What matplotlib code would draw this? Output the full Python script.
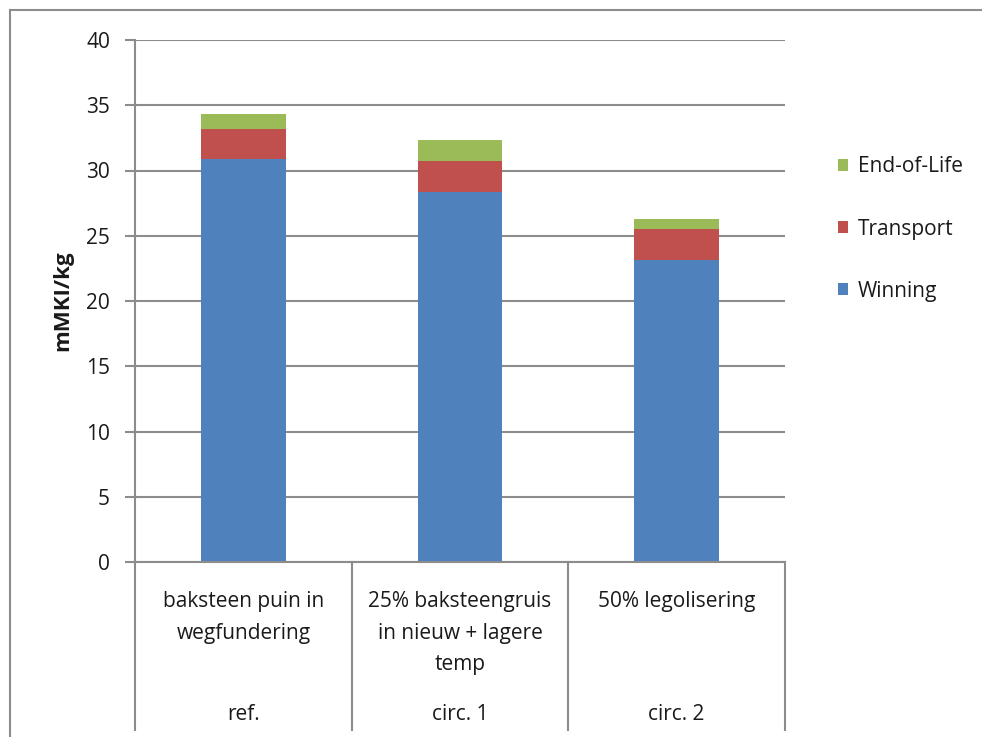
import matplotlib
matplotlib.use("Agg")
import matplotlib.pyplot as plt
from matplotlib.lines import Line2D
from matplotlib.patches import Patch

# Data
scenarios = ["baksteen puin in\nwegfundering",
             "25% baksteengruis\nin nieuw + lagere\ntemp",
             "50% legolisering"]
groups = ["ref.", "circ. 1", "circ. 2"]
winning = [30.9, 28.35, 23.15]
transport = [2.3, 2.35, 2.35]
end_of_life = [1.15, 1.6, 0.75]
series_names = ["Winning", "Transport", "End-of-Life"]
colors = ["#4F81BD", "#C0504D", "#9BBB59"]
y_ticks = [0, 5, 10, 15, 20, 25, 30, 35, 40]

plt.rcParams["font.family"] = ["Open Sans", "DejaVu Sans"]
FS = 15
TXT = "#1a1a1a"

W, H = 982, 737
fig = plt.figure(figsize=(W / 100, H / 100), dpi=100)
fig.patch.set_facecolor("white")

x0, x1, y0, y1 = 135, 785, 40, 562
ax = fig.add_axes([x0 / W, 1 - y1 / H, (x1 - x0) / W, (y1 - y0) / H])

grid_col = "#8C8C8C"
positions = list(range(len(scenarios)))
bw = 0.39

ax.bar(positions, winning, bw, color=colors[0], zorder=3)
ax.bar(positions, transport, bw, bottom=winning, color=colors[1], zorder=3)
base3 = [a + b for a, b in zip(winning, transport)]
ax.bar(positions, end_of_life, bw, bottom=base3, color=colors[2], zorder=3)

ax.set_xlim(-0.5, len(scenarios) - 0.5)
ax.set_ylim(0, 40)
ax.set_yticks(y_ticks)
ax.set_yticklabels([str(t) for t in y_ticks], fontsize=FS, color=TXT)
ax.tick_params(axis="y", length=7, width=1.5, color=grid_col, pad=11)
ax.tick_params(axis="x", length=0, labelbottom=False)
ax.yaxis.grid(True, color=grid_col, linewidth=1.5, zorder=0)
for s in ["top", "right", "bottom"]:
    ax.spines[s].set_visible(False)
ax.spines["left"].set_color(grid_col)
ax.spines["left"].set_linewidth(1.5)
ax.set_ylabel("mMKI/kg", fontsize=16, fontweight="bold", color=TXT)
ax.yaxis.set_label_coords(-(135 - 73) / (x1 - x0), (y1 - 301) / (y1 - y0))

# Multi-level category axis
sep_bottom = -(730 - y1) / (y1 - y0)
trans = ax.get_xaxis_transform()
ax.plot([-0.5, len(scenarios) - 0.5], [0, 0], transform=trans,
        color=grid_col, linewidth=1.5, clip_on=False, zorder=4)
for b in [p - 0.5 for p in positions] + [len(scenarios) - 0.5]:
    ax.plot([b, b], [0, sep_bottom], transform=trans, color=grid_col,
            linewidth=1.5, clip_on=False)

lab_top = -(591 - y1) / (y1 - y0)
grp_y = -(714 - y1) / (y1 - y0)
for p, s, g in zip(positions, scenarios, groups):
    ax.text(p, lab_top, s, transform=trans, ha="center", va="top",
            fontsize=FS, color=TXT, linespacing=1.66)
    ax.text(p, grp_y, g, transform=trans, ha="center", va="center",
            fontsize=FS, color=TXT)

# Legend
handles = [Patch(facecolor=colors[i], edgecolor="none") for i in (2, 1, 0)]
labels = [series_names[i] for i in (2, 1, 0)]
fig.legend(handles, labels, loc="center left",
           bbox_to_anchor=(819 / W, 1 - 229 / H), frameon=False,
           fontsize=FS, handlelength=0.5, handleheight=0.5,
           handletextpad=0.45, labelspacing=1.98, labelcolor=TXT)

# Chart frame
fig.add_artist(Line2D([10 / W, 1], [1 - 10 / H, 1 - 10 / H],
                      color=grid_col, linewidth=1.5))
fig.add_artist(Line2D([10 / W, 10 / W], [0, 1 - 10 / H],
                      color=grid_col, linewidth=1.5))

fig.savefig("out.png", dpi=100, facecolor="white")
